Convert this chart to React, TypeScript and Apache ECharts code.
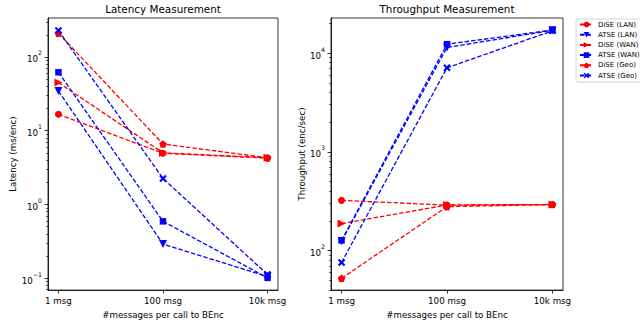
import React, { useEffect, useRef } from 'react';
import * as echarts from 'echarts';

const FONT = 'DejaVu Sans';

const categories = ['1 msg', '100 msg', '10k msg'];
const seriesNames = ['DiSE (LAN)', 'ATSE (LAN)', 'DiSE (WAN)', 'ATSE (WAN)', 'DiSE (Geo)', 'ATSE (Geo)'];

// Latency (ms/enc)
const latencyDiseLan = [16.7, 4.95, 4.25];
const latencyAtseLan = [34.5, 0.29, 0.105];
const latencyDiseWan = [45, 5.0, 4.3];
const latencyAtseWan = [62, 0.59, 0.101];
const latencyDiseGeo = [210, 6.6, 4.3];
const latencyAtseGeo = [228, 2.25, 0.112];

// Throughput (enc/sec)
const throughputDiseLan = [323, 289, 293];
const throughputAtseLan = [125, 11400, 17000];
const throughputDiseWan = [188, 290, 293];
const throughputAtseWan = [127, 12300, 17100];
const throughputDiseGeo = [52.5, 279, 293];
const throughputAtseGeo = [76, 7100, 16800];

const latencyTicks = [0.1, 1, 10, 100];
const throughputTicks = [100, 1000, 10000];
const latencyRange = [0.0689, 338];
const throughputRange = [39.9, 22650];

const latencySeries = [latencyDiseLan, latencyAtseLan, latencyDiseWan, latencyAtseWan, latencyDiseGeo, latencyAtseGeo];
const throughputSeries = [throughputDiseLan, throughputAtseLan, throughputDiseWan, throughputAtseWan, throughputDiseGeo, throughputAtseGeo];

const RED = '#ff0000';
const BLUE = '#0000ff';
const markerStyles = [
  { color: RED, symbol: 'circle', size: 7 },
  { color: BLUE, symbol: 'path://M0,0L10,0L5,9Z', size: 8 },
  { color: RED, symbol: 'path://M0,0L9,5L0,10Z', size: 8 },
  { color: BLUE, symbol: 'rect', size: 6.5 },
  { color: RED, symbol: 'path://M5,0L9.76,3.45L7.94,9.05L2.06,9.05L0.24,3.45Z', size: 7.5 },
  { color: BLUE, symbol: 'path://M2,0L5,3L8,0L10,2L7,5L10,8L8,10L5,7L2,10L0,8L3,5L0,2Z', size: 7.5 },
];

function minorTicks(lo: number, hi: number): number[] {
  const out: number[] = [];
  for (let e = -3; e <= 6; e++) {
    for (let m = 2; m <= 9; m++) {
      const v = m * Math.pow(10, e);
      if (v > lo && v < hi) out.push(v);
    }
  }
  return out;
}

const supFormatter = (v: number) => {
  const e = Math.round(Math.log10(v));
  const s = e < 0 ? '\u2212' + Math.abs(e) : String(e);
  return '{b|10}{s|' + s + '}';
};

const labelRich = {
  b: { fontSize: 8.7, fontFamily: FONT, color: '#000', lineHeight: 14, verticalAlign: 'bottom' },
  s: { fontSize: 6.2, fontFamily: FONT, color: '#000', lineHeight: 8, verticalAlign: 'top' },
};

const tickLine = { color: '#000', width: 0.8 };

export default function App() {
  const ref = useRef<HTMLDivElement>(null);
  useEffect(() => {
    if (!ref.current) return;
    const chart = echarts.init(ref.current, null, { renderer: 'svg' });

    const grids = [
      { left: 48, top: 18, width: 230, height: 274, show: true, borderColor: '#000', borderWidth: 0.8, backgroundColor: 'transparent' },
      { left: 331, top: 18, width: 232, height: 274, show: true, borderColor: '#000', borderWidth: 0.8, backgroundColor: 'transparent' },
    ];

    const xAxes = [0, 1].map((g) => ({
      type: 'value',
      gridIndex: g,
      min: -0.1,
      max: 2.1,
      axisLine: { show: true, onZero: false, lineStyle: tickLine },
      splitLine: { show: false },
      axisTick: { show: true, customValues: [0, 1, 2], length: 3.5, lineStyle: tickLine },
      axisLabel: {
        customValues: [0, 1, 2],
        formatter: (v: number) => categories[Math.round(v)],
        fontSize: 8.7,
        fontFamily: FONT,
        color: '#000',
        margin: 6,
      },
      name: '#messages per call to BEnc',
      nameLocation: 'middle',
      nameGap: 18,
      nameTextStyle: { fontSize: 8.7, fontFamily: FONT, color: '#000' },
    }));

    const makeY = (g: number, range: number[], ticks: number[], name: string, gap: number) => [
      {
        type: 'log',
        logBase: 10,
        gridIndex: g,
        position: 'left',
        min: range[0],
        max: range[1],
        axisLine: { show: true, onZero: false, lineStyle: tickLine },
        splitLine: { show: false },
        axisTick: { show: true, customValues: ticks, length: 3.5, lineStyle: tickLine },
        axisLabel: { customValues: ticks, formatter: supFormatter, rich: labelRich, margin: 6 },
        name,
        nameLocation: 'middle',
        nameGap: gap,
        nameTextStyle: { fontSize: 8.7, fontFamily: FONT, color: '#000' },
      },
      {
        type: 'log',
        logBase: 10,
        gridIndex: g,
        position: 'left',
        offset: 0,
        min: range[0],
        max: range[1],
        axisLine: { show: false, onZero: false },
        splitLine: { show: false },
        axisTick: { show: true, customValues: minorTicks(range[0], range[1]), length: 2, lineStyle: { color: '#000', width: 0.6 } },
        axisLabel: { show: false },
      },
    ];

    const yAxes = [
      ...makeY(0, latencyRange, latencyTicks, 'Latency (ms/enc)', 30),
      ...makeY(1, throughputRange, throughputTicks, 'Throughput (enc/sec)', 24),
    ];

    const series: any[] = [];
    const build = (vals: number[][], xi: number, yi: number) => {
      vals.forEach((arr, i) => {
        const st = markerStyles[i];
        series.push({
          type: 'line',
          name: seriesNames[i],
          xAxisIndex: xi,
          yAxisIndex: yi,
          data: arr.map((v, k) => [k, v]),
          symbol: st.symbol,
          symbolSize: st.size,
          showAllSymbol: true,
          itemStyle: { color: st.color },
          lineStyle: { color: st.color, width: 1.3, type: [4.5, 2] },
          emphasis: { disabled: true },
        });
      });
    };
    build(latencySeries, 0, 0);
    build(throughputSeries, 1, 2);

    chart.setOption({
      animation: false,
      grid: grids,
      xAxis: xAxes,
      yAxis: yAxes,
      series,
      legend: {
        orient: 'vertical',
        left: 576,
        top: 19,
        itemWidth: 13,
        itemHeight: 7,
        itemGap: 3.2,
        padding: [2, 4, 3, 3],
        borderColor: '#cccccc',
        borderWidth: 0.8,
        borderRadius: 2,
        backgroundColor: '#ffffff',
        textStyle: { fontSize: 7, color: '#000', fontFamily: FONT },
        data: seriesNames,
        selectedMode: false,
      },
      graphic: [
        {
          type: 'text',
          x: 163,
          y: 9,
          style: { text: 'Latency Measurement', fontSize: 10.4, fontFamily: FONT, fill: '#000', align: 'center', verticalAlign: 'middle' },
        },
        {
          type: 'text',
          x: 447,
          y: 9,
          style: { text: 'Throughput Measurement', fontSize: 10.4, fontFamily: FONT, fill: '#000', align: 'center', verticalAlign: 'middle' },
        },
      ],
    });
    return () => chart.dispose();
  }, []);
  return <div ref={ref} style={{ position: 'absolute', left: 0, top: 0, width: 640, height: 324 }} />;
}
